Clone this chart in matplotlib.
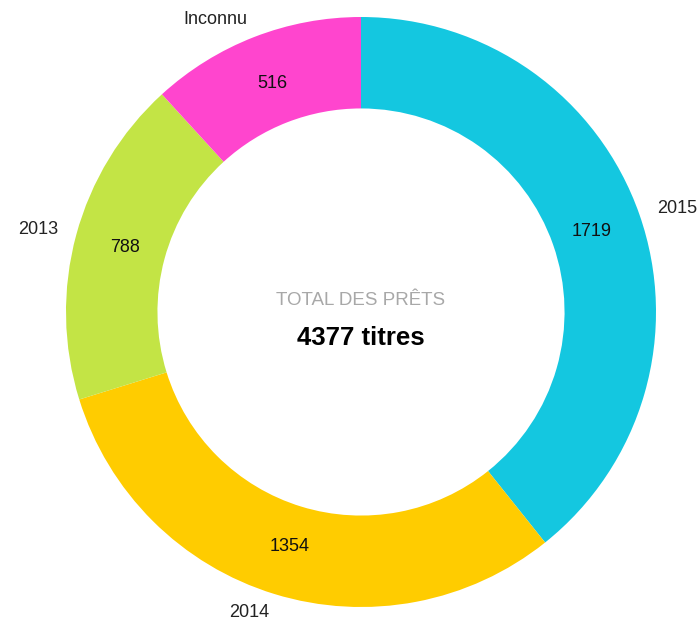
import matplotlib
matplotlib.use("Agg")
import matplotlib.pyplot as plt

plt.rcParams['font.family'] = ['Liberation Sans', 'DejaVu Sans']

# data
years = ["2015", "2014", "2013", "Inconnu"]
loans = [1719, 1354, 788, 516]
colors = ["#14C7E0", "#FFCC00", "#C3E445", "#FF45CE"]

total = sum(loans)

fig = plt.figure(figsize=(7.0, 6.23), dpi=100)
ax = fig.add_axes([0, 0, 1, 1])

# centre of the donut in pixels and outer radius
cx, cy, r = 361, 312, 295

wedges, texts, autotexts = ax.pie(
    loans, labels=years, colors=colors, startangle=90, counterclock=False,
    radius=1.0, wedgeprops=dict(width=0.31, linewidth=0),
    labeldistance=1.065, pctdistance=0.83,
    autopct=lambda p: "%d" % round(p * total / 100.0),
    textprops=dict(fontsize=13, color="#222222"))

for t in autotexts:
    t.set_color("#111111")
    t.set_fontsize(13)

ax.text(0, 0.04, "TOTAL DES PRÊTS", ha="center", va="center",
        fontsize=13.5, color="#A8A8A8")
ax.text(0, -0.087, "%d titres" % total, ha="center", va="center",
        fontsize=18.5, fontweight="bold", color="#000000")

ax.set_aspect("auto")
ax.set_xlim(-cx / r, (700 - cx) / r)
ax.set_ylim(-(623 - cy) / r, cy / r)
ax.axis("off")

fig.savefig("out.png", dpi=100)
